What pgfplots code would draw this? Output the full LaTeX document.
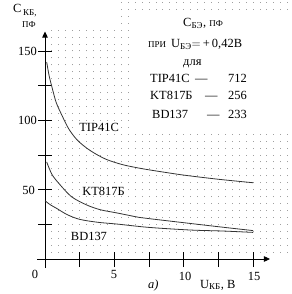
\documentclass[border=0pt]{standalone}
\usepackage{fontspec}
\setmainfont{Liberation Serif}
\usepackage{pgfplots}
\pgfplotsset{compat=1.18}
\usetikzlibrary{arrows.meta}
\begin{document}
\begin{tikzpicture}[every node/.style={font=\fontsize{12.5}{14}\selectfont}]
\path[use as bounding box] (0,0) rectangle (292bp,294bp);
% dotted background lattice (0.5 V x 5 pF)
\begin{scope}[x=13.87bp,y=1.387bp,shift={(45bp,35bp)}]
  \foreach \k in {1,...,35}{
    \draw[gray!75,line width=0.9bp,dash pattern=on 0.9bp off 6.035bp] (\k*0.5,4.68) -- (\k*0.5,186);
  }
  \fill[white] (-3.3,167.5) rectangle (5.25,190);
  \fill[white] (6.25,92.5) rectangle (18,177.5);
  % axes
  \draw[line width=0.8bp] (0,-6.5) -- (0,158);
  \draw[line width=0.8bp,-{Triangle[length=6bp,width=5.5bp]}] (0,150) -- (0,164);
  \draw[line width=0.8bp,-{Triangle[length=6bp,width=5.5bp]}] (-0.55,0) -- (16.22,0);
  \foreach \t in {25,50,...,150}{ \draw[line width=0.8bp] (-0.5,\t) -- (0.5,\t); }
  \foreach \t in {2.5,5,...,15}{ \draw[line width=0.8bp] (\t,-5.8) -- (\t,5); }
\end{scope}
\begin{axis}[at={(0,0)},anchor=south west,width=292bp,height=294bp,scale only axis,
  xmin=-3.245,xmax=17.81,ymin=-25.2,ymax=186.7,hide axis,clip=false]
\addplot[black!80,line width=0.8bp,smooth] coordinates {
 (0.12,142) (0.3,132) (0.5,124) (0.8,113) (1.2,104) (1.7,94) (2.3,86) (3,80)
 (3.7,75.5) (4.5,71.5) (5.6,68) (6.8,65.5) (8,63.5) (10,60.5) (12.5,57.5) (15,55)};
\addplot[black!80,line width=0.8bp,smooth] coordinates {
 (0.12,70) (0.5,61) (1,54.5) (1.9,45) (3,39) (4,35.5) (5.2,33.2) (6.8,30)
 (7.6,29) (10,26.2) (12.5,23.3) (15,20.5)};
\addplot[black!80,line width=0.8bp,smooth] coordinates {
 (0,42) (0.4,39) (0.84,36.5) (1.6,32) (2.5,28.6) (3.8,26.5) (5.2,25.2)
 (7.5,22.8) (10.5,20.9) (12.8,20.2) (15,19.2)};
\node[anchor=base,fill=white,inner sep=1bp] at (axis cs:3.9,91.6) {TIP41C};
\node[anchor=base,fill=white,inner sep=1bp] at (axis cs:4.22,46) {KT817Б};
\node[anchor=base,fill=white,inner sep=1bp] at (axis cs:3.17,13.7) {BD137};
\end{axis}
% y label
\node[anchor=base west,inner sep=0] at (13bp,281bp) {C};
\node[anchor=base west,inner sep=0,font=\fontsize{9}{10}\selectfont] at (23bp,278bp) {КБ,};
\node[anchor=base west,inner sep=0,font=\fontsize{9}{10}\selectfont] at (22bp,266bp) {ПФ};
% y tick labels
\node[anchor=east,inner sep=0] at (37bp,243bp) {150};
\node[anchor=east,inner sep=0] at (37bp,174bp) {100};
\node[anchor=east,inner sep=0] at (35bp,104bp) {50};
% x tick labels
\node[anchor=base,inner sep=0] at (35bp,16bp) {0};
\node[anchor=base,inner sep=0] at (114bp,16bp) {5};
\node[anchor=base,inner sep=0] at (185bp,14bp) {10};
\node[anchor=base,inner sep=0] at (254bp,14bp) {15};
% x label
\node[anchor=base west,inner sep=0] at (148bp,6bp) {\itshape a)};
\node[anchor=base west,inner sep=0] at (200bp,6bp) {U\textsubscript{\fontsize{9}{10}\selectfont КБ}, B};
% legend text
\node[anchor=base west,inner sep=0] at (183bp,267bp) {C\textsubscript{\fontsize{9}{10}\selectfont БЭ}, {\fontsize{9}{10}\selectfont ПФ}};
\node[anchor=base west,inner sep=0] at (148bp,246bp) {{\fontsize{9}{10}\selectfont ПРИ}\hspace{5bp}U\textsubscript{\fontsize{9}{10}\selectfont БЭ}$=$\,+\,0,42В};
\node[anchor=base west,inner sep=0] at (183bp,228bp) {для};
\node[anchor=base west,inner sep=0] at (150bp,211bp) {TIP41C};
\node[anchor=base west,inner sep=0] at (195bp,211bp) {—};
\node[anchor=base west,inner sep=0] at (228bp,211bp) {712};
\node[anchor=base west,inner sep=0] at (150bp,194bp) {KT817Б};
\node[anchor=base west,inner sep=0] at (205bp,194bp) {—};
\node[anchor=base west,inner sep=0] at (228bp,194bp) {256};
\node[anchor=base west,inner sep=0] at (152bp,175bp) {BD137};
\node[anchor=base west,inner sep=0] at (207bp,175bp) {—};
\node[anchor=base west,inner sep=0] at (228bp,175bp) {233};
\end{tikzpicture}
\end{document}
